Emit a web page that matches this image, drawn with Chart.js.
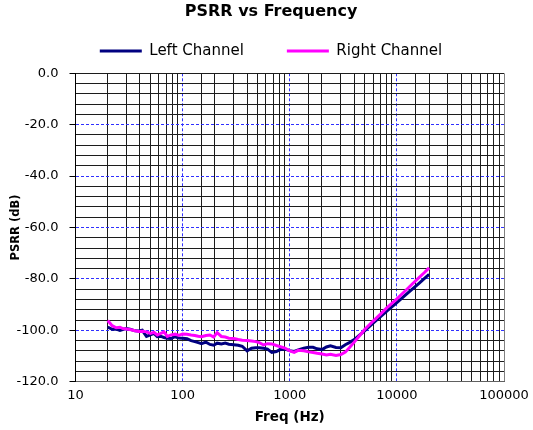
<!DOCTYPE html>
<html lang="en">
<head>
  <meta charset="utf-8" />
  <title>PSRR vs Frequency</title>
  <script src="https://cdn.jsdelivr.net/npm/chart.js"></script>
  <style>
    html, body { margin: 0; padding: 0; background: #fff; }
    canvas { display: block; }
  </style>
</head>
<body>
<canvas id="psrrChart" width="533" height="430"></canvas>
<script>
// frequencies (Hz) the two channels were read at
const freqs = [20, 22, 24, 26, 28, 30, 33, 36, 39, 42, 46, 50, 54, 58, 62, 67, 72, 78, 85, 92,
  100, 110, 120, 130, 140, 150, 165, 180, 195, 210, 230, 250, 270, 300, 330, 360, 400, 440, 480, 520,
  570, 620, 680, 750, 820, 900, 1000, 1100, 1200, 1350, 1500, 1650, 1800, 2000, 2200, 2400, 2700, 3000,
  3300, 3600, 4000, 4500, 5000, 6000, 7000, 8000, 10000, 12000, 14000, 16000, 18000, 20000];

const leftChannel = [-98.8, -99.6, -99.5, -100.0, -99.6, -99.3, -99.7, -100.2, -100.3, -100.0, -102.4, -101.8, -101.2, -102.5, -102.3, -102.8, -103.1, -103.2, -102.5, -103.0,
  -103.1, -103.3, -104.0, -104.4, -104.8, -105.2, -104.6, -105.5, -105.8, -105.0, -105.3, -105.0, -105.4, -105.6, -105.8, -106.2, -108.0, -107.0, -106.8, -106.8,
  -107.0, -107.3, -108.6, -108.3, -107.4, -107.3, -107.9, -108.2, -107.6, -107.0, -106.6, -106.6, -107.2, -107.5, -106.5, -106.0, -106.7, -106.8,
  -105.6, -104.8, -103.6, -101.8, -100.2, -97.2, -94.8, -92.6, -89.2, -86.3, -83.9, -81.8, -79.9, -78.2];

const rightChannel = [-96.2, -98.2, -99.0, -98.8, -99.4, -99.5, -99.8, -100.2, -100.5, -100.4, -100.6, -101.2, -100.8, -101.8, -101.3, -100.6, -102.4, -101.8, -101.5, -102.0,
  -101.4, -101.5, -101.8, -102.0, -102.3, -102.5, -102.0, -101.8, -102.6, -100.9, -102.4, -102.6, -103.1, -103.2, -103.6, -103.9, -104.0, -104.2, -104.4, -104.8,
  -105.7, -105.2, -105.3, -105.9, -106.4, -106.9, -108.0, -108.6, -107.8, -108.0, -108.4, -108.6, -108.9, -109.2, -109.6, -109.3, -109.8, -109.4,
  -108.5, -106.8, -104.6, -102.0, -99.7, -96.4, -93.8, -91.4, -87.8, -84.6, -81.9, -79.6, -77.6, -75.7];

const xTickLabels = [10, 100, 1000, 10000, 100000];
const yTickLabels = [0, -20, -40, -60, -80, -100, -120];

const FONT = "'DejaVu Sans', sans-serif";
const blueGrid = '#3030ff';
const minorGrid = '#1c1c1c';

const isDecade = v => Math.abs(Math.log10(v) - Math.round(Math.log10(v))) < 1e-6;
const xMajor = v => isDecade(v) && v > 10 && v < 100000;
const yMajor = v => v % 20 === 0 && v !== 0 && v !== -120;

new Chart(document.getElementById('psrrChart'), {
  type: 'line',
  data: {
    datasets: [
      {
        label: 'Left Channel',
        data: freqs.map((f, i) => ({ x: f, y: leftChannel[i] })),
        borderColor: '#000080',
        backgroundColor: '#000080',
        borderWidth: 3,
        pointRadius: 0,
        order: 1
      },
      {
        label: 'Right Channel',
        data: freqs.map((f, i) => ({ x: f, y: rightChannel[i] })),
        borderColor: '#ff00ff',
        backgroundColor: '#ff00ff',
        borderWidth: 3,
        pointRadius: 0,
        order: 0
      }
    ]
  },
  options: {
    responsive: false,
    animation: false,
    layout: { padding: { left: 9, right: 0, top: 0, bottom: 0 } },
    plugins: {
      title: {
        display: true,
        text: 'PSRR vs Frequency',
        color: '#000',
        font: { family: FONT, size: 16, weight: 'bold' },
        padding: { top: 2.4, bottom: -21.1 }
      },
      // empty spacer between legend and plot
      subtitle: {
        display: true,
        text: '',
        weight: 500,
        font: { size: 1, lineHeight: 1 },
        padding: { top: 0, bottom: 3.8 }
      },
      legend: {
        labels: {
          boxWidth: 42,
          boxHeight: 3,
          padding: 43,
          color: '#000',
          font: { family: FONT, size: 15 },
          generateLabels: chart => Chart.defaults.plugins.legend.labels.generateLabels(chart)
            .map(item => ({ ...item, lineWidth: 0, fillStyle: item.strokeStyle }))
            .sort((a, b) => a.datasetIndex - b.datasetIndex)
        }
      },
      tooltip: { enabled: false }
    },
    scales: {
      x: {
        type: 'logarithmic',
        min: 10,
        max: 100000,
        afterFit: s => { s.height = 48.3; s.paddingRight = 29; },
        border: {
          color: '#606060',
          width: 1,
          dash: ctx => (ctx.tick && xMajor(ctx.tick.value)) ? [3, 2] : []
        },
        grid: {
          drawTicks: false,
          lineWidth: 1,
          color: ctx => {
            if (!ctx.tick) return minorGrid;
            const v = ctx.tick.value;
            if (v >= 100000) return '#808080';
            return xMajor(v) ? blueGrid : minorGrid;
          }
        },
        ticks: {
          autoSkip: false,
          maxRotation: 0,
          padding: 6,
          color: '#000',
          font: { family: FONT, size: 13 },
          callback: v => {
            const t = xTickLabels.find(l => Math.abs(l - v) / l < 1e-6);
            return t ? String(t) : '';
          }
        },
        title: {
          display: true,
          text: 'Freq (Hz)',
          color: '#000',
          font: { family: FONT, size: 13.5, weight: 'bold' },
          padding: { top: 0, bottom: 4 }
        }
      },
      y: {
        min: -120,
        max: 0,
        afterFit: s => { s.width = 66.5; s.paddingTop = 73.3; },
        border: {
          color: '#000',
          width: 1,
          dash: ctx => (ctx.tick && yMajor(ctx.tick.value)) ? [3, 2] : []
        },
        grid: {
          lineWidth: 1,
          tickLength: 6,
          color: ctx => (ctx.tick && yMajor(ctx.tick.value)) ? blueGrid : minorGrid,
          tickColor: ctx => (ctx.tick && yTickLabels.includes(ctx.tick.value)) ? '#000' : 'rgba(0,0,0,0)'
        },
        ticks: {
          stepSize: 4,
          autoSkip: false,
          padding: 11,
          color: '#000',
          font: { family: FONT, size: 13 },
          callback: v => yTickLabels.includes(v) ? v.toFixed(1) : ''
        },
        title: {
          display: true,
          text: 'PSRR (dB)',
          color: '#000',
          font: { family: FONT, size: 11.5, weight: 'bold' },
          padding: { top: 0, bottom: 0 }
        }
      }
    }
  }
});
</script>
</body>
</html>
